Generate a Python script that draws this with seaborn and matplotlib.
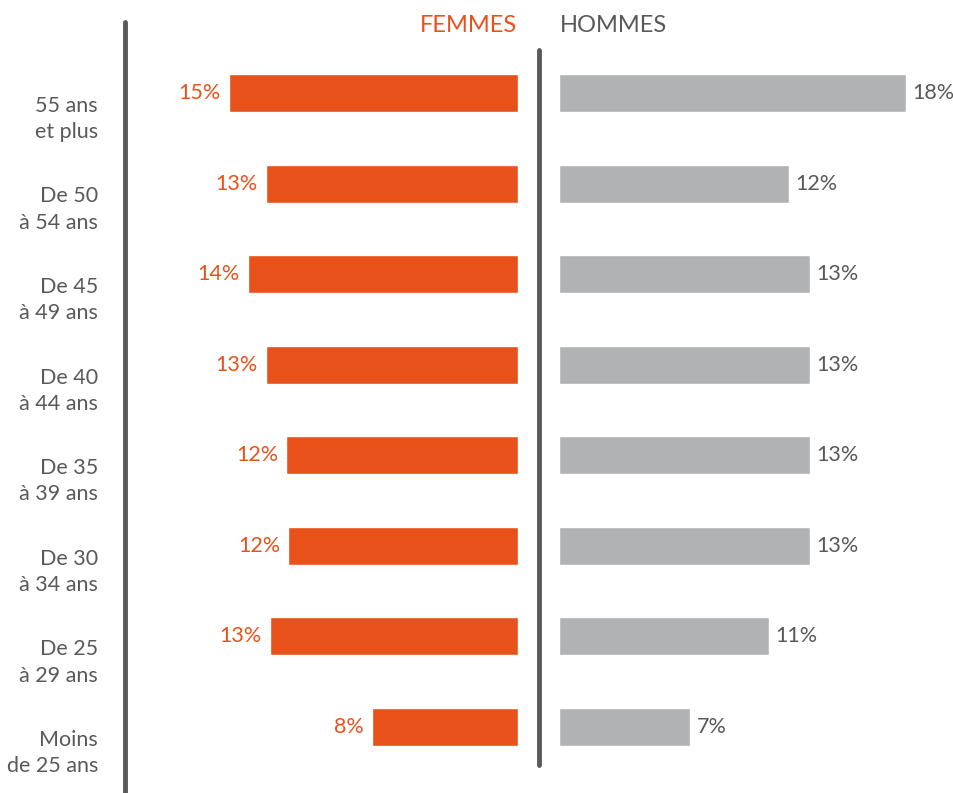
import pandas as pd
import matplotlib.pyplot as plt
import seaborn as sns

groupes = ['55 ans\net plus', 'De 50\nà 54 ans', 'De 45\nà 49 ans', 'De 40\nà 44 ans',
           'De 35\nà 39 ans', 'De 30\nà 34 ans', 'De 25\nà 29 ans', 'Moins\nde 25 ans']
femmes = [15.0, 13.05, 14.0, 13.05, 12.0, 11.9, 12.85, 7.55]
hommes = [18.0, 11.9, 13.0, 13.0, 13.0, 13.0, 10.9, 6.8]
femmes_txt = ['15%', '13%', '14%', '13%', '12%', '12%', '13%', '8%']
hommes_txt = ['18%', '12%', '13%', '13%', '13%', '13%', '11%', '7%']

orange = '#E8521A'
gris = '#B1B2B4'
texte = '#58595B'
ligne = '#5A5A5C'

sns.set_style('white')
plt.rcParams['font.family'] = ['Lato', 'DejaVu Sans']

df = pd.DataFrame({'groupe': groupes, 'femmes': femmes, 'hommes': hommes})

W, H = 954, 793
fig = plt.figure(figsize=(W / 100, H / 100), dpi=100)

px = 19.3  # pixels per percent
# y limits so that row centres fall at 93 + 90.57*i pixels from the top
ytop = -93 / 90.57
ybot = (H - 93) / 90.57

axf = fig.add_axes([140 / W, 0, (518 - 140) / W, 1])
axh = fig.add_axes([559 / W, 0, (W - 559) / W, 1])

sns.barplot(data=df, x='femmes', y='groupe', color=orange, width=0.42,
            saturation=1, ax=axf)
sns.barplot(data=df, x='hommes', y='groupe', color=gris, width=0.42,
            saturation=1, ax=axh)

axf.set_xlim((518 - 140) / px, 0)
axh.set_xlim(0, (W - 559) / px)
for ax in (axf, axh):
    ax.set_ylim(ybot, ytop)
    ax.axis('off')

for i, (v, t) in enumerate(zip(femmes, femmes_txt)):
    axf.annotate(t, (v, i), xytext=(-6, 0), textcoords='offset points',
                 ha='right', va='center', color=orange, fontsize=15.5)
for i, (v, t) in enumerate(zip(hommes, hommes_txt)):
    axh.annotate(t, (v, i), xytext=(4.5, 0), textcoords='offset points',
                 ha='left', va='center', color=texte, fontsize=15.5)

# row labels, slightly below the bar centre
for i, g in enumerate(groupes):
    y = 93 + 90.57 * i + 26
    fig.text(98 / W, 1 - y / H, g, ha='right', va='center', color=texte,
             fontsize=15.5, linespacing=1.4)

# headers
fig.text(517 / W, 1 - 25 / H, 'FEMMES', ha='right', va='center', color=orange, fontsize=17)
fig.text(560 / W, 1 - 25 / H, 'HOMMES', ha='left', va='center', color=texte, fontsize=17)

# vertical rules
fig.add_artist(plt.Line2D([125 / W, 125 / W], [1 - 22 / H, 0], color=ligne, lw=3.5))
fig.add_artist(plt.Line2D([539 / W, 539 / W], [1 - 50 / H, 1 - 765 / H], color=ligne, lw=3.5))

fig.savefig('out.png', dpi=100, facecolor='white')
